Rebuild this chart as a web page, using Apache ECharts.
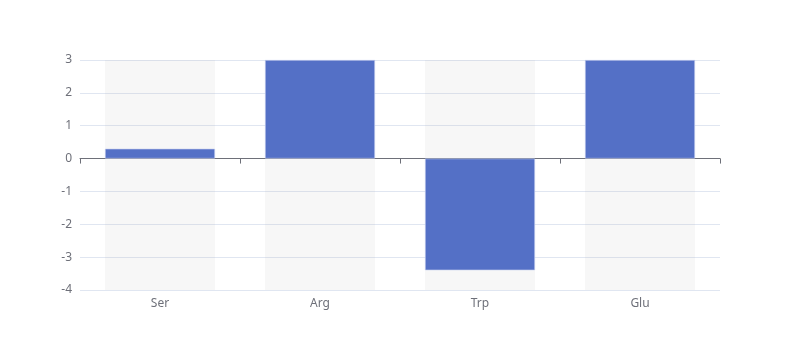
<!DOCTYPE html>
<html>
<head>
<meta charset="utf-8">
<script src="https://cdn.jsdelivr.net/npm/echarts@6/dist/echarts.min.js"></script>
<style>html,body{margin:0;padding:0;background:#fff;}#main{width:800px;height:360px;}</style>
</head>
<body>
<div id="main"></div>
<script>
const categories = ['Ser', 'Arg', 'Trp', 'Glu'];
const values = [0.3, 3, -3.4, 3];
const yMin = -4, yMax = 3, yInterval = 1;

const chart = echarts.init(document.getElementById('main'), null, {renderer: 'canvas'});
chart.setOption({
  animation: false,
  textStyle: {fontFamily: 'Noto Sans'},
  grid: {left: 80, right: 80, top: 60, bottom: 70},
  xAxis: {
    type: 'category',
    data: categories,
    axisLine: {onZero: true, lineStyle: {color: '#6E7079'}},
    axisTick: {show: true},
    axisLabel: {color: '#6E7079', fontSize: 12, fontFamily: 'Noto Sans'}
  },
  yAxis: {
    type: 'value',
    min: yMin, max: yMax, interval: yInterval,
    axisLabel: {color: '#6E7079', fontSize: 12, fontFamily: 'Noto Sans'},
    splitLine: {lineStyle: {color: '#E0E6F1'}}
  },
  series: [{
    type: 'bar',
    data: values,
    barWidth: '68.75%',
    showBackground: true,
    backgroundStyle: {color: 'rgba(180,180,180,0.1)'},
    itemStyle: {color: '#5470c6', borderColor: '#c9d2f0', borderWidth: 0.6}
  }]
});
</script>
</body>
</html>
